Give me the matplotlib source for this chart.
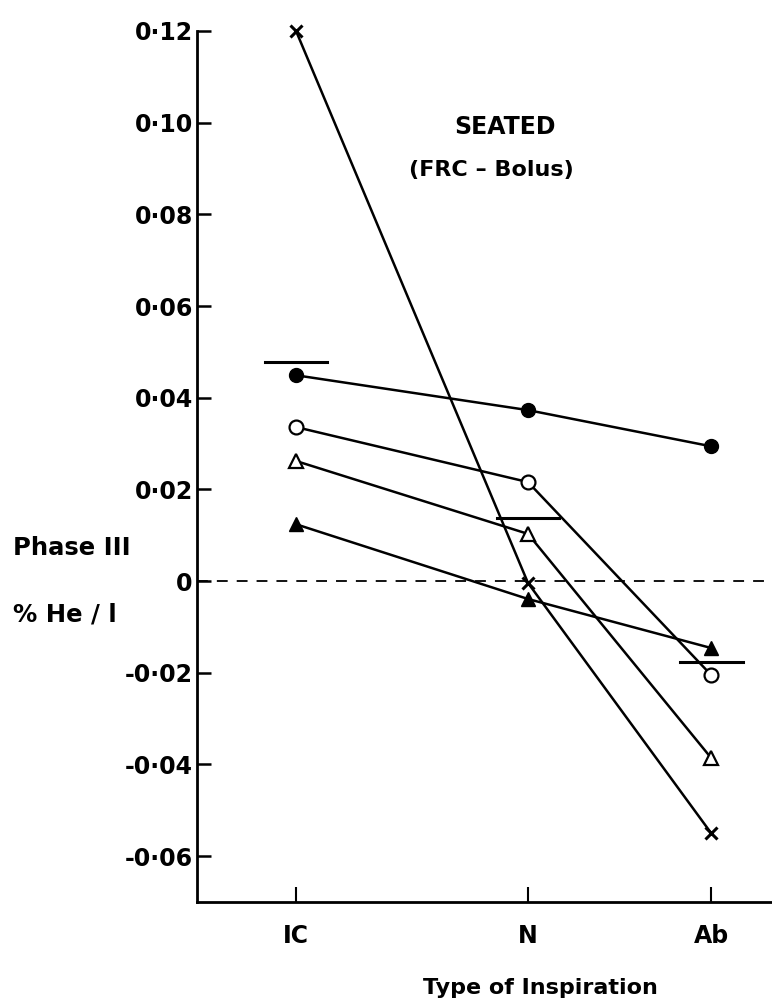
import matplotlib
matplotlib.use("Agg")
import matplotlib.pyplot as plt

# Category positions (N-Ab spacing is narrower than IC-N on the original)
categories = ["IC", "N", "Ab"]
x_pos = [0.0, 1.0, 1.79]

# Phase III slope (% He / l) for each subject
filled_circle = [0.0449, 0.0373, 0.0294]
open_circle = [0.0336, 0.0216, -0.0205]
open_triangle = [0.0262, 0.0103, -0.0386]
filled_triangle = [0.0124, -0.0039, -0.0146]
cross = [0.1200, -0.0004, -0.0550]

# Horizontal bars (group means)
mean_values = [0.0478, 0.0137, -0.0177]

y_ticks = [-0.06, -0.04, -0.02, 0, 0.02, 0.04, 0.06, 0.08, 0.10, 0.12]
y_ticklabels = ["-0·06", "-0·04", "-0·02", "0", "0·02", "0·04", "0·06", "0·08", "0·10", "0·12"]

plt.rcParams["font.family"] = ["DejaVu Sans"]
plt.rcParams["font.weight"] = "bold"

fig = plt.figure(figsize=(7.72, 10.02), dpi=100)
ax = fig.add_axes([197 / 772, 1 - 902 / 1002, 1 - 197 / 772, (902 - 31) / 1002])

# zero reference line
ax.axhline(0, color="black", lw=1.3, linestyle=(0, (6, 5)), zorder=1)

line_kw = dict(color="black", lw=1.8, zorder=3, clip_on=False)
ax.plot(x_pos, filled_circle, marker="o", ms=10, mfc="black", mec="black", **line_kw)
ax.plot(x_pos, open_circle, marker="o", ms=10, mfc="white", mec="black", mew=1.6, **line_kw)
ax.plot(x_pos, open_triangle, marker="^", ms=10, mfc="white", mec="black", mew=1.6, **line_kw)
ax.plot(x_pos, filled_triangle, marker="^", ms=10, mfc="black", mec="black", **line_kw)
ax.plot(x_pos, cross, marker="x", ms=8, mew=2.2, mec="black", **line_kw)

# mean bars
half_w = 0.135
for xp, m in zip(x_pos, mean_values):
    ax.plot([xp - half_w, xp + half_w], [m, m], color="black", lw=2.2, zorder=2)

ax.set_xlim(-0.427, 2.052)
ax.set_ylim(-0.07, 0.12)

ax.set_yticks(y_ticks)
ax.set_yticklabels(y_ticklabels)
ax.set_xticks(x_pos)
ax.set_xticklabels(categories)
ax.tick_params(axis="y", direction="in", length=10, width=1.8, pad=3, labelsize=17)
ax.tick_params(axis="x", direction="in", length=11, width=1.5, pad=16, labelsize=17)

for side in ["top", "right"]:
    ax.spines[side].set_visible(False)
for side in ["left", "bottom"]:
    ax.spines[side].set_linewidth(2)

ax.text(0.90, 0.099, "SEATED", ha="center", va="center", fontsize=17, fontweight="bold")
ax.text(0.84, 0.0896, "(FRC – Bolus)", ha="center", va="center", fontsize=16, fontweight="bold")

fig.text(13 / 772, 1 - 548 / 1002, "Phase III", ha="left", va="center", fontsize=17.5, fontweight="bold")
fig.text(13 / 772, 1 - 615 / 1002, "% He / l", ha="left", va="center", fontsize=17.5, fontweight="bold")
fig.text(540 / 772, 1 - 988 / 1002, "Type of Inspiration", ha="center", va="center",
         fontsize=16, fontweight="bold")

fig.savefig("out.png", dpi=100)
